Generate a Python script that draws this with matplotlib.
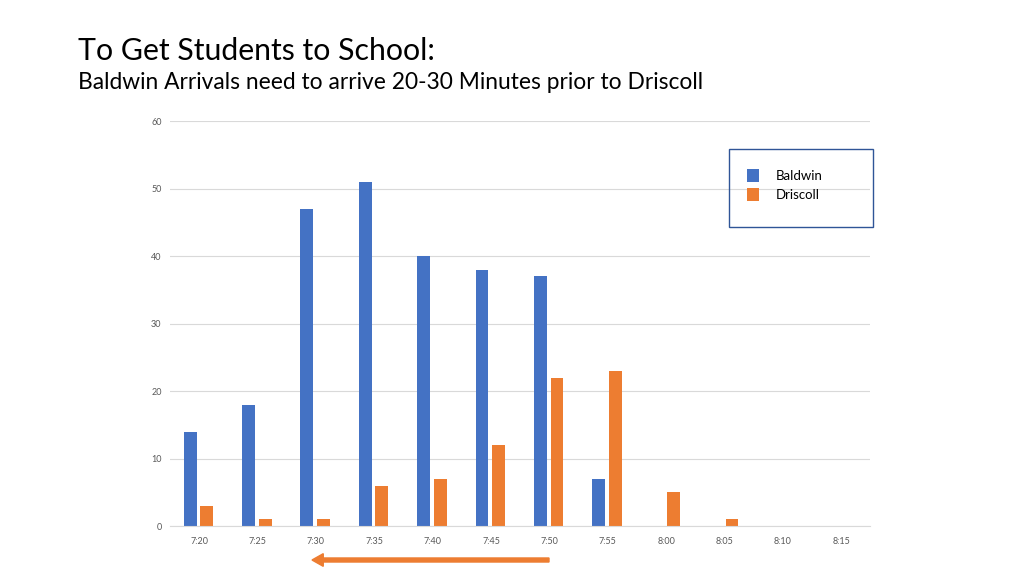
import numpy as np
import matplotlib.pyplot as plt
from matplotlib.patches import FancyArrow, Rectangle

times = ['7:20', '7:25', '7:30', '7:35', '7:40', '7:45',
         '7:50', '7:55', '8:00', '8:05', '8:10', '8:15']
baldwin = [14, 18, 47, 51, 40, 38, 37, 7, 0, 0, 0, 0]
driscoll = [3, 1, 1, 6, 7, 12, 22, 23, 5, 1, 0, 0]

blue = '#4472C4'
orange = '#ED7D31'

plt.rcParams['font.family'] = ['Lato', 'DejaVu Sans']

fig = plt.figure(figsize=(10.24, 5.76), dpi=100)
ax = fig.add_axes([0.166, 0.0868, 0.684, 0.703])

x = np.arange(len(times))
w = 0.22
ax.bar(x - 0.155, baldwin, w, color=blue, label='Baldwin')
ax.bar(x + 0.13, driscoll, w, color=orange, label='Driscoll')

ax.set_xlim(-0.5, len(times) - 0.5)
ax.set_ylim(0, 60)
ax.set_yticks(range(0, 61, 10))
ax.set_xticks(x)
ax.set_xticklabels(times)
ax.tick_params(axis='both', length=0, labelsize=6.5, colors='#595959')
ax.tick_params(axis='x', pad=8)
ax.tick_params(axis='y', pad=6)
ax.grid(axis='y', color='#D9D9D9', linewidth=0.8)
ax.set_axisbelow(True)
for s in ['top', 'right', 'left']:
    ax.spines[s].set_visible(False)
ax.spines['bottom'].set_color('#D9D9D9')

# legend: entries without frame, box drawn separately
ax.legend(loc='upper left', bbox_to_anchor=(747 / 1024, 1 - 169 / 576),
          bbox_transform=fig.transFigure, frameon=False, fontsize=9.5,
          handlelength=0.9, handleheight=1.1, handletextpad=1.3,
          labelspacing=0.5, borderpad=0, borderaxespad=0)
fig.patches.append(Rectangle((729 / 1024, 1 - 227 / 576), 144 / 1024, 78 / 576,
                             fill=False, edgecolor='#2F5597', linewidth=1.0,
                             transform=fig.transFigure))

fig.text(0.076, 0.912, 'To Get Students to School:', fontsize=21.8,
         color='#000000', va='center')
fig.text(0.076, 0.856, 'Baldwin Arrivals need to arrive 20-30 Minutes prior to Driscoll',
         fontsize=16.4, color='#000000', va='center')

arrow = FancyArrow(549 / 1024, 1 - 560 / 576, -(549 - 312) / 1024, 0,
                   width=0.007, head_width=0.022, head_length=0.011,
                   length_includes_head=True, color=orange,
                   transform=fig.transFigure)
fig.patches.append(arrow)

fig.savefig('out.png', dpi=100)
